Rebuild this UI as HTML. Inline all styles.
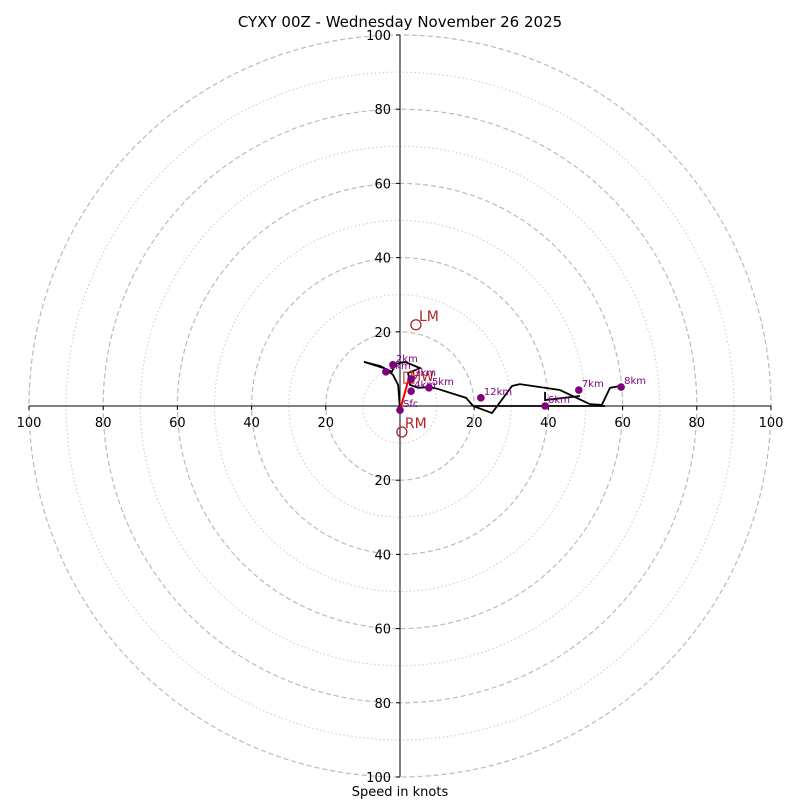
<!DOCTYPE html>
<html><head><meta charset="utf-8"><style>
body{margin:0;background:#fff;font-family:"Liberation Sans","DejaVu Sans",sans-serif}
</style></head><body>
<svg id="chart" width="800" height="800" viewBox="0 0 800 800" xmlns="http://www.w3.org/2000/svg" font-family="'DejaVu Sans','Liberation Sans',sans-serif">
<rect width="800" height="800" fill="#fff"/>
<text x="400" y="27" text-anchor="middle" font-size="15">CYXY 00Z - Wednesday November 26 2025</text>
<text x="400" y="796" text-anchor="middle" font-size="13">Speed in knots</text>
<g id="rings"></g><g id="axes"></g><g id="trace"></g><g id="marks"></g>
</svg>
<script>
const ringValues=[10,20,30,40,50,60,70,80,90,100];
const tickLabels=[20,40,60,80,100];
const traceU=[0,-0.5,-1.9,-4.3,-9.7,-5.4,-2.2,-1.3,1.3,5.4,2.2,2.7,4.9,8.1,10.2,17.8,19.7,24.8,30.2,32.3,43.1,51.2,54.4,56.6,59.3,NaN,19.7,55.3,NaN,39.1,39.1,48.5];
const traceV=[-1.1,5.7,8.4,10.2,11.9,10.8,9.2,11.3,11.9,10.2,8.9,5.7,4.9,5.1,4.6,2.2,0,-1.9,5.4,5.9,4.3,0.5,0.3,4.9,5.4,NaN,0,0,NaN,3.8,1.6,2.7];
const markerLabels=["Sfc","1km","2km","3km","4km","5km","6km","7km","8km","12km"];
const markerU=[0,-3.8,-1.9,3,3,7.8,39.1,48.2,59.6,21.8];
const markerV=[-1.1,9.2,11.1,7.3,4,4.9,0,4.3,5.1,2.2];
const lmU=4.3, lmV=21.9, rmU=0.5, rmV=-7;
const mwU=2.4, mwV=7.5;
const cx=400, cy=406, R=371, maxV=100;
const sx=u=>cx+u/maxV*R, sy=v=>cy-v/maxV*R;
const NS="http://www.w3.org/2000/svg";
function mk(tag,attrs,parent,text){const e=document.createElementNS(NS,tag);for(const k in attrs)e.setAttribute(k,attrs[k]);if(text!=null)e.textContent=text;document.getElementById(parent).appendChild(e);return e;}
ringValues.forEach(r=>{
 const c=mk('circle',{cx:cx,cy:cy,r:r/maxV*R,fill:'none',stroke:r%20==0?'#bbb':'#ccc','stroke-width':r%20==0?1.2:1,'stroke-dasharray':r%20==0?'5,3':'1.5,2.5'},'rings');
 
 
});
mk('line',{x1:sx(-100),y1:cy,x2:sx(100),y2:cy,stroke:'#000','stroke-width':1},'axes');
mk('line',{x1:cx,y1:sy(100),x2:cx,y2:sy(-100),stroke:'#000','stroke-width':1},'axes');
tickLabels.forEach(t=>{
 [sx(t),sx(-t)].forEach(x=>{
  mk('line',{x1:x,y1:cy,x2:x,y2:cy+4,stroke:'#000'},'axes');
  const e=mk('text',{x:x,y:cy+21,'text-anchor':'middle','font-size':13},'axes',t);
  
  
 });
 [sy(t),sy(-t)].forEach(y=>{
  mk('line',{x1:cx-4,y1:y,x2:cx,y2:y,stroke:'#000'},'axes');
  const e=mk('text',{x:cx-9,y:y+5,'text-anchor':'end','font-size':13},'axes',t);
  
  
 });
});
let segs=[],cur=[];
traceU.forEach((u,i)=>{if(isNaN(u)){segs.push(cur);cur=[];}else cur.push(sx(u)+','+sy(traceV[i]));});
segs.push(cur);
segs.forEach((s,k)=>{
 const tr=mk('polyline',{points:s.join(' '),fill:'none',stroke:'#000','stroke-width':1.8},'trace');
 
 
});
const mwb=mk('rect',{x:sx(mwU)-5,y:sy(mwV)-6,width:10,height:11,fill:'none',stroke:'#b22222','stroke-width':1},'marks');


const mwt=mk('text',{x:sx(mwU)+1,y:sy(mwV)+3,fill:'#b22222','font-size':13},'marks','MW');


const ar=mk('line',{x1:sx(markerU[0]),y1:sy(markerV[0]),x2:sx(mwU),y2:sy(mwV),stroke:'red','stroke-width':2},'marks');


markerU.forEach((u,i)=>{
 const c=mk('circle',{cx:sx(u),cy:sy(markerV[i]),r:3.8,fill:'purple'},'marks');
 
 
 const t=mk('text',{x:sx(u)+3,y:sy(markerV[i])-3,fill:'purple','font-size':10},'marks',markerLabels[i]);
 
 
});
[[lmU,lmV,'LM'],[rmU,rmV,'RM']].forEach(m=>{
 const c=mk('circle',{cx:sx(m[0]),cy:sy(m[1]),r:5,fill:'none',stroke:'#b22222','stroke-width':1.3},'marks');
 
 
 const t=mk('text',{x:sx(m[0])+3,y:sy(m[1])-4,fill:'#b22222','font-size':14},'marks',m[2]);
 
 
});
</script>
</body></html>
